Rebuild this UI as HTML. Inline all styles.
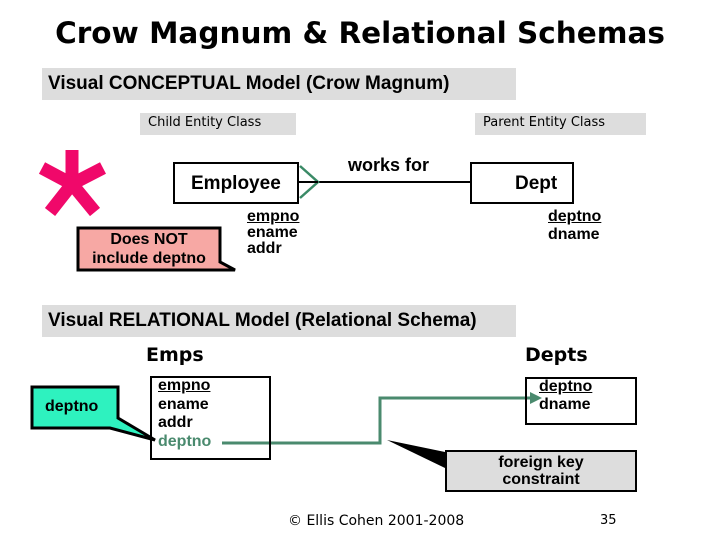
<!DOCTYPE html>
<html><head><meta charset="utf-8"><style>
body{margin:0;width:720px;height:540px;background:#fff;overflow:hidden;position:relative;font-family:"Liberation Sans",sans-serif}
div{position:absolute;box-sizing:border-box}
.b{font-weight:bold}
.dv{font-family:"DejaVu Sans",sans-serif}
</style></head><body>
<svg width="720" height="540" style="position:absolute;left:0;top:0">
<g stroke="#f0086a" stroke-width="13">
<line x1="72" y1="150" x2="72" y2="184"/>
<line x1="42" y1="168" x2="72" y2="184"/>
<line x1="103" y1="168" x2="72" y2="184"/>
<line x1="50" y1="212" x2="72" y2="184"/>
<line x1="95" y1="212" x2="72" y2="184"/>
</g>
<line x1="318" y1="182" x2="470" y2="182" stroke="#000" stroke-width="2"/>
<polyline points="300,166 318,182 300,198" fill="none" stroke="#3a8a66" stroke-width="2.5"/>
<line x1="298" y1="182" x2="318" y2="182" stroke="#000" stroke-width="2"/>
<polygon points="78,228 220,228 220,262 235,270 218,270 78,270" fill="#f7a8a4" stroke="#000" stroke-width="3"/>
<polygon points="32,387 118,387 118,418 155,440 110,428 32,428" fill="#2ef2bf" stroke="#000" stroke-width="3"/>
<polyline points="222,443 380,443 380,398 532,398" fill="none" stroke="#4a8a6e" stroke-width="3"/>
<polygon points="530,392 542,398 530,404" fill="#4a8a6e"/>
<polygon points="387,440 445,452 445,468" fill="#000"/>
</svg>
<div class="b dv" style="left:0;width:720px;top:16px;text-align:center;font-size:29.5px">Crow Magnum &amp; Relational Schemas</div>
<div class="b" style="left:42px;top:68px;width:474px;height:32px;background:#ddd;font-size:19px;padding:5px 0 0 6px">Visual CONCEPTUAL Model (Crow Magnum)</div>
<div class="dv" style="left:140px;top:113px;width:156px;height:22px;background:#ddd;font-size:13px;padding:2px 0 0 8px">Child Entity Class</div>
<div class="dv" style="left:475px;top:113px;width:171px;height:22px;background:#ddd;font-size:13px;padding:2px 0 0 8px">Parent Entity Class</div>
<div class="b" style="left:173px;top:162px;width:126px;height:42px;border:2px solid #000;font-size:19px;padding:9px 0 0 16px">Employee</div>
<div class="b" style="left:470px;top:162px;width:104px;height:42px;border:2px solid #000;font-size:19px;padding:9px 0 0 43px">Dept</div>
<div class="b" style="left:348px;top:155px;font-size:18px">works for</div>
<div class="b" style="left:247px;top:209px;font-size:16px;line-height:16px"><u>empno</u><br>ename<br>addr</div>
<div class="b" style="left:548px;top:208px;font-size:16px;line-height:18px"><u>deptno</u><br>dname</div>
<div class="b" style="left:80px;top:230px;width:138px;text-align:center;font-size:16px;line-height:19px">Does NOT<br>include deptno</div>
<div class="b" style="left:42px;top:305px;width:474px;height:32px;background:#ddd;font-size:19px;padding:5px 0 0 6px">Visual RELATIONAL Model (Relational Schema)</div>
<div class="b dv" style="left:146px;top:344px;font-size:19px">Emps</div>
<div class="b dv" style="left:525px;top:344px;font-size:19px">Depts</div>
<div class="b" style="left:32px;top:387px;width:86px;height:41px;font-size:16px;padding:11px 0 0 13px">deptno</div>
<div style="left:150px;top:376px;width:121px;height:84px;border:2px solid #000"></div>
<div class="b" style="left:158px;top:377px;font-size:16px;line-height:18.5px"><u>empno</u><br>ename<br>addr<br><span style="color:#4a8a6e">deptno</span></div>
<div style="left:525px;top:377px;width:112px;height:48px;border:2px solid #000"></div>
<div class="b" style="left:539px;top:378px;font-size:16px;line-height:18px"><u>deptno</u><br>dname</div>
<div class="b" style="left:445px;top:450px;width:192px;height:42px;background:#ddd;border:2px solid #000;font-size:16px;line-height:17px;text-align:center;padding-top:2px">foreign key<br>constraint</div>
<div class="dv" style="left:288px;top:513px;font-size:14px">© Ellis Cohen 2001-2008</div>
<div class="dv" style="left:600px;top:513px;font-size:13px">35</div>
</body></html>
